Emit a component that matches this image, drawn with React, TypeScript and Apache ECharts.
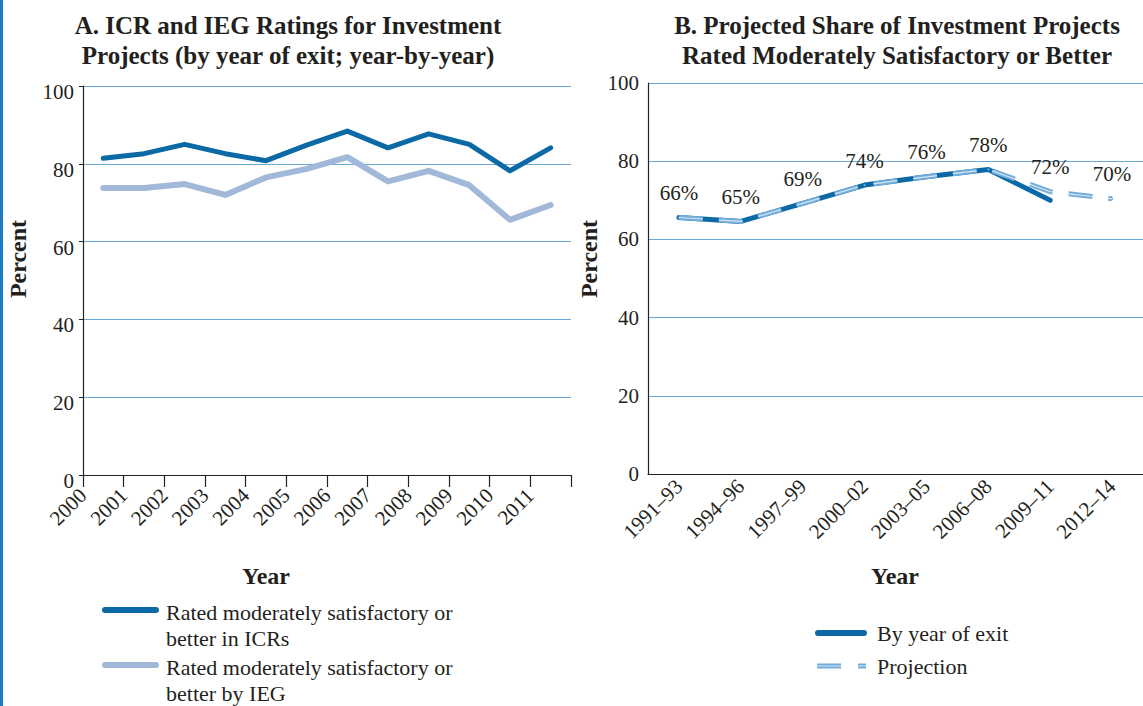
import React, { useEffect, useRef } from "react";
import * as echarts from "echarts";

const years = ["2000", "2001", "2002", "2003", "2004", "2005", "2006", "2007", "2008", "2009", "2010", "2011"];
const icrRated = [81.4, 82.6, 85.0, 82.6, 80.8, 84.8, 88.4, 84.1, 87.7, 85.0, 78.2, 84.1];
const iegRated = [73.8, 73.8, 74.8, 72.0, 76.5, 78.7, 81.7, 75.5, 78.2, 74.5, 65.6, 69.4];

const periods = ["1991–93", "1994–96", "1997–99", "2000–02", "2003–05", "2006–08", "2009–11", "2012–14"];
const byYearOfExit = [65.6, 64.6, 69.2, 73.9, 76.0, 77.9, 70.0, null];
const projection = [65.6, 64.6, 69.2, 73.9, 76.0, 77.9, 72.2, 70.4];

const yMin = 0;
const yMax = 100;
const yInterval = 20;

const FONT = "'Liberation Serif', 'DejaVu Serif', serif";
const TEXT = "#231f20";
const DARK = "#0b6aa6";
const LIGHT = "#a2b8d9";
const PROJ = "#72acd9";
const PROJ_IN = "#d4e6f4";
const GRID = "#6aa9d6";

export default function App() {
  const ref = useRef<HTMLDivElement>(null);
  useEffect(() => {
    if (!ref.current) return;
    const chart = echarts.init(ref.current, null, { renderer: "svg" });
    const yAxisBase = (gridIndex: number, ticks: boolean, label: any) => ({
      type: "value" as const,
      gridIndex,
      min: yMin,
      max: yMax,
      interval: yInterval,
      axisLine: { show: true, lineStyle: { color: "#222", width: 1.2 } },
      axisTick: { show: ticks, length: 4, lineStyle: { color: "#222" } },
      axisLabel: { color: TEXT, fontFamily: FONT, fontSize: 21, margin: 9, ...label },
      splitLine: { show: true, lineStyle: { color: GRID, width: 1.2 } },
    });
    const option: any = {
      animation: false,
      backgroundColor: "#fff",
      grid: [
        { left: 83, top: 86, width: 488, height: 389 },
        { left: 648, top: 83, width: 500, height: 391 },
      ],
      xAxis: [
        {
          type: "value",
          gridIndex: 0,
          min: 0,
          max: years.length,
          interval: 1,
          axisLine: { show: true, lineStyle: { color: "#222", width: 1.2 } },
          axisTick: { show: true, length: 12, lineStyle: { color: "#222", width: 1.2 } },
          splitLine: { show: false },
          axisLabel: {
            rotate: 45,
            margin: 17,
            color: TEXT,
            fontFamily: FONT,
            fontSize: 21,
            formatter: (v: number) => (v < years.length ? years[v] : ""),
          },
        },
        {
          type: "category",
          gridIndex: 1,
          data: periods,
          boundaryGap: true,
          axisLine: { show: true, lineStyle: { color: "#222", width: 1.2 } },
          axisTick: { show: false },
          axisLabel: { rotate: 45, interval: 0, margin: 9, color: TEXT, fontFamily: FONT, fontSize: 21 },
        },
      ],
      yAxis: [
        yAxisBase(0, true, { verticalAlign: "top", lineHeight: 12 }),
        yAxisBase(1, false, {}),
      ],
      series: [
        {
          name: "Rated moderately satisfactory or better by IEG",
          type: "line",
          xAxisIndex: 0,
          yAxisIndex: 0,
          data: iegRated.map((v, i) => [i + 0.5, v]),
          showSymbol: false,
          lineStyle: { color: LIGHT, width: 6, cap: "round", join: "round" },
          z: 3,
        },
        {
          name: "Rated moderately satisfactory or better in ICRs",
          type: "line",
          xAxisIndex: 0,
          yAxisIndex: 0,
          data: icrRated.map((v, i) => [i + 0.5, v]),
          showSymbol: false,
          lineStyle: { color: DARK, width: 5, cap: "round", join: "round" },
          z: 4,
        },
        {
          name: "By year of exit",
          type: "line",
          xAxisIndex: 1,
          yAxisIndex: 1,
          data: byYearOfExit,
          showSymbol: false,
          lineStyle: { color: DARK, width: 5, cap: "round", join: "round" },
          z: 3,
        },
        {
          name: "Projection",
          type: "line",
          xAxisIndex: 1,
          yAxisIndex: 1,
          data: projection,
          symbol: "circle",
          symbolSize: 2,
          showSymbol: true,
          itemStyle: { color: PROJ },
          lineStyle: { color: PROJ, width: 5, type: [24, 16], join: "round" },
          label: {
            show: true,
            position: "top",
            distance: 13,
            color: TEXT,
            fontFamily: FONT,
            fontSize: 21,
            formatter: (p: any) => Math.round(p.value) + "%",
          },
          labelLayout: { hideOverlap: false },
          z: 5,
        },
        {
          name: "Projection inner",
          type: "line",
          xAxisIndex: 1,
          yAxisIndex: 1,
          data: projection,
          showSymbol: false,
          silent: true,
          lineStyle: { color: PROJ_IN, width: 1.2, type: [24, 16], join: "round" },
          z: 6,
        },
      ],
      graphic: [
        { type: "rect", left: 0, top: 0, shape: { width: 3, height: 706 }, style: { fill: "#1f7cc2" } },
        {
          type: "text",
          x: 288,
          y: 10,
          style: {
            text: "A. ICR and IEG Ratings for Investment\nProjects (by year of exit; year-by-year)",
            textAlign: "center",
            font: `bold 25px ${FONT}`,
            lineHeight: 30,
            fill: TEXT,
          },
        },
        {
          type: "text",
          x: 897,
          y: 10,
          style: {
            text: "B. Projected Share of Investment Projects\nRated Moderately Satisfactory or Better",
            textAlign: "center",
            font: `bold 25px ${FONT}`,
            lineHeight: 30,
            fill: TEXT,
          },
        },
        {
          type: "text",
          x: 18,
          y: 259,
          rotation: Math.PI / 2,
          style: { text: "Percent", textAlign: "center", textVerticalAlign: "middle", font: `bold 24px ${FONT}`, fill: TEXT },
        },
        {
          type: "text",
          x: 589,
          y: 259,
          rotation: Math.PI / 2,
          style: { text: "Percent", textAlign: "center", textVerticalAlign: "middle", font: `bold 24px ${FONT}`, fill: TEXT },
        },
        {
          type: "text",
          x: 266,
          y: 576,
          style: { text: "Year", textAlign: "center", textVerticalAlign: "middle", font: `bold 24px ${FONT}`, fill: TEXT },
        },
        {
          type: "text",
          x: 895,
          y: 576,
          style: { text: "Year", textAlign: "center", textVerticalAlign: "middle", font: `bold 24px ${FONT}`, fill: TEXT },
        },
        // left legend
        { type: "line", shape: { x1: 105, y1: 610, x2: 156, y2: 610 }, style: { stroke: DARK, lineWidth: 6, lineCap: "round" } },
        {
          type: "text",
          x: 166,
          y: 599,
          style: { text: "Rated moderately satisfactory or\nbetter in ICRs", font: `22px ${FONT}`, lineHeight: 26, fill: TEXT },
        },
        { type: "line", shape: { x1: 105, y1: 665, x2: 156, y2: 665 }, style: { stroke: LIGHT, lineWidth: 6, lineCap: "round" } },
        {
          type: "text",
          x: 166,
          y: 654,
          style: { text: "Rated moderately satisfactory or\nbetter by IEG", font: `22px ${FONT}`, lineHeight: 26, fill: TEXT },
        },
        // right legend
        { type: "line", shape: { x1: 818, y1: 633, x2: 864, y2: 633 }, style: { stroke: DARK, lineWidth: 6, lineCap: "round" } },
        {
          type: "text",
          x: 877,
          y: 633,
          style: { text: "By year of exit", textVerticalAlign: "middle", font: `22px ${FONT}`, fill: TEXT },
        },
        { type: "line", shape: { x1: 817, y1: 666, x2: 866, y2: 666 }, style: { stroke: PROJ, lineWidth: 5, lineDash: [24, 17] } },
        { type: "line", shape: { x1: 817, y1: 666, x2: 866, y2: 666 }, style: { stroke: PROJ_IN, lineWidth: 1.2, lineDash: [24, 17] } },
        {
          type: "text",
          x: 877,
          y: 666,
          style: { text: "Projection", textVerticalAlign: "middle", font: `22px ${FONT}`, fill: TEXT },
        },
      ],
    };
    chart.setOption(option);
    return () => chart.dispose();
  }, []);
  return (
    <div
      ref={ref}
      style={{ position: "absolute", left: 0, top: 0, width: 1143, height: 706, background: "#fff" }}
    />
  );
}
